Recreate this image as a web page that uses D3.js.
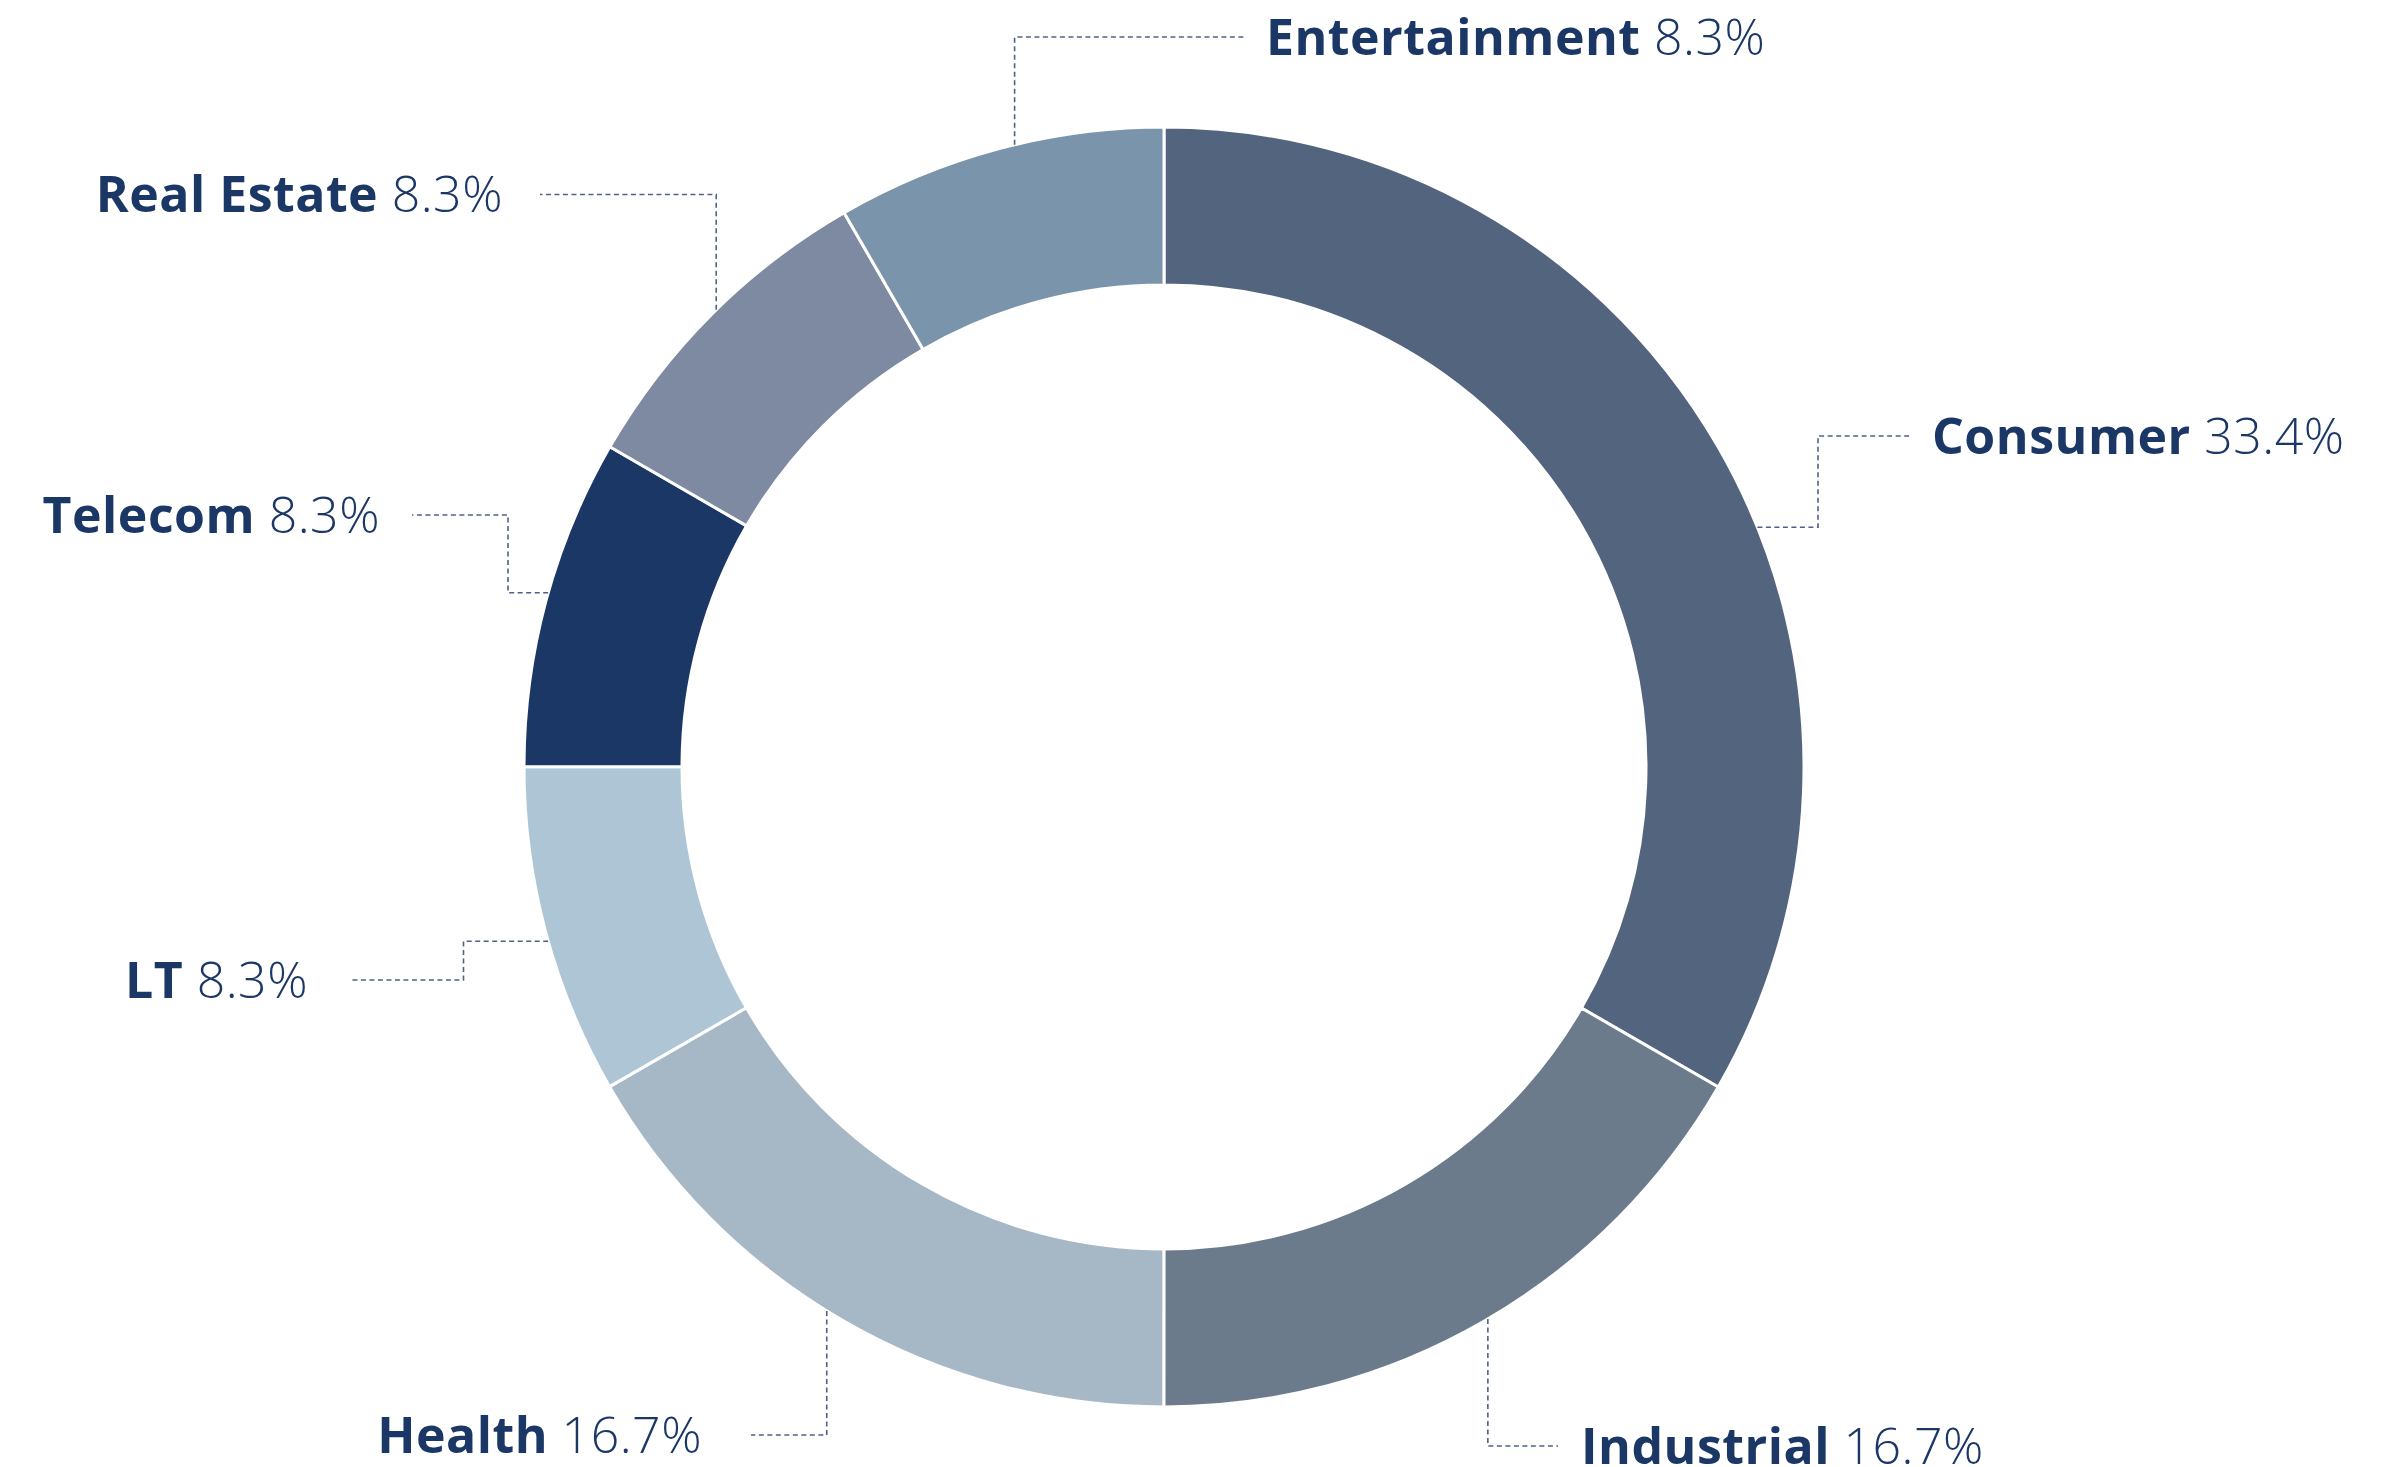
<!DOCTYPE html>
<html>
<head>
<meta charset="utf-8">
<script src="https://cdn.jsdelivr.net/npm/d3@7/dist/d3.min.js"></script>
<style>
  html, body { margin: 0; padding: 0; background: #ffffff; }
  svg { display: block; }
</style>
</head>
<body>
<svg id="chart" width="2383" height="1467"></svg>
<script>
// ---- data ----
const categories = ["Consumer", "Industrial", "Health", "LT", "Telecom", "Real Estate", "Entertainment"];
// slice sizes as drawn (ring boundaries fall at 120°, 180°, 240°, 270°, 300°, 330°)
const sliceValues = [33.33, 16.67, 16.67, 8.33, 8.33, 8.33, 8.33];
// percentages as printed in the labels
const shareLabels = ["33.4%", "16.7%", "16.7%", "8.3%", "8.3%", "8.3%", "8.3%"];
const sliceColors = ["#53647f", "#6b7b8c", "#a6b7c6", "#adc5d5", "#1b3766", "#7e8aa2", "#7a94ab"];

// ---- layout (label placement, not data) ----
const labelLayout = [
  { angle: 68,    elbowX: 1818,  lineY: 436,  endX: 1912, textX: 1932, anchor: "start" },
  { angle: 149.6, elbowX: null,  lineY: 1446, endX: 1558, textX: 1581, anchor: "start" },
  { angle: 211.8, elbowX: null,  lineY: 1435, endX: 751,  textX: 702,  anchor: "end" },
  { angle: 254.2, elbowX: 463.5, lineY: 980,  endX: 351,  textX: 308,  anchor: "end" },
  { angle: 285.8, elbowX: 508,   lineY: 515,  endX: 412,  textX: 380,  anchor: "end" },
  { angle: 315.6, elbowX: null,  lineY: 194.5,endX: 540,  textX: 503,  anchor: "end" },
  { angle: 346.5, elbowX: null,  lineY: 37,   endX: 1246, textX: 1266, anchor: "start" }
];

const cx = 1164, cy = 767;
const outerR = 640, innerR = 482;
const textColor = "#1b3766";
const fontSize = 50;

const svg = d3.select("#chart");
const g = svg.append("g").attr("transform", `translate(${cx},${cy})`);

const pie = d3.pie().sort(null).value(d => d.value);
const arc = d3.arc().innerRadius(innerR).outerRadius(outerR);
const data = categories.map((c, i) => ({ name: c, value: sliceValues[i], label: shareLabels[i], color: sliceColors[i], layout: labelLayout[i] }));
const arcs = pie(data);

g.selectAll("path.slice")
  .data(arcs)
  .join("path")
  .attr("class", "slice")
  .attr("d", arc)
  .attr("fill", d => d.data.color)
  .attr("stroke", "#ffffff")
  .attr("stroke-width", 3)
  .attr("stroke-linejoin", "miter");

// leaders + labels
const leaders = svg.append("g");
const labels = svg.append("g");
arcs.forEach(d => {
  const L = d.data.layout;
  const a = L.angle * Math.PI / 180;
  const ax = cx + outerR * Math.sin(a);
  const ay = cy - outerR * Math.cos(a);
  const ex = L.elbowX == null ? ax : L.elbowX;
  const pts = [[ax, ay], [ex, ay], [ex, L.lineY], [L.endX, L.lineY]];
  leaders.append("path")
    .attr("d", d3.line()(pts))
    .attr("fill", "none")
    .attr("stroke", "#4d6189")
    .attr("stroke-width", 1.6)
    .attr("stroke-dasharray", "5,3.5");

  const t = labels.append("text")
    .attr("x", L.textX)
    .attr("y", L.lineY + fontSize * 0.355)
    .attr("text-anchor", L.anchor)
    .attr("font-family", "'Open Sans', 'Noto Sans', sans-serif")
    .attr("font-size", fontSize)
    .attr("fill", textColor);
  t.append("tspan").attr("font-weight", 700).attr("letter-spacing", 0.5).text(d.data.name);
  t.append("tspan").attr("font-weight", 300).attr("letter-spacing", 0.5).text(" " + d.data.label);
});
</script>
</body>
</html>
